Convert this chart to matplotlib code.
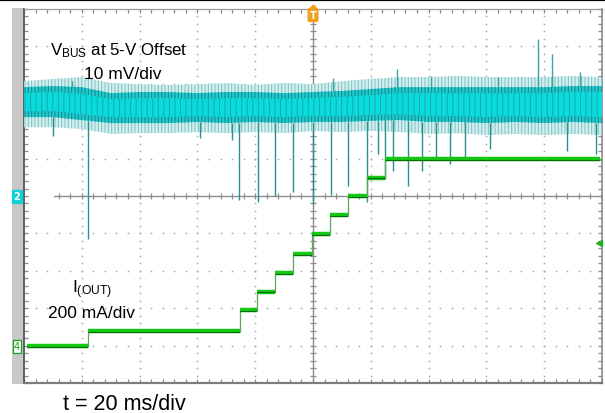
import numpy as np
import matplotlib
matplotlib.use('Agg')
import matplotlib.pyplot as plt
from matplotlib.patches import Rectangle
from matplotlib.lines import Line2D

plt.rcParams['font.family'] = ['Liberation Sans', 'DejaVu Sans']
plt.rcParams['mathtext.fontset'] = 'custom'
plt.rcParams['mathtext.rm'] = 'Liberation Sans'
plt.rcParams['mathtext.it'] = 'Liberation Sans:italic'
plt.rcParams['hatch.linewidth'] = 0.7

# ---------------- data ----------------
# time axis: 20 ms/div, 10 divisions -> 0..200 ms
env_t = [0, 10, 20, 30, 40, 50, 60, 70, 80, 90, 100,
         110, 120, 130, 140, 150, 160, 170, 180, 190, 200]
# VBUS deviation from 5-V offset (mV), noise envelopes
vbus_outer_hi = [30.7, 31.3, 31.8, 30.2, 29.9, 29.7, 29.9, 30.2, 29.7, 30.2, 29.9,
                 30.7, 31.3, 31.8, 31.8, 32.1, 31.8, 31.8, 31.8, 32.1, 31.8]
vbus_outer_lo = [18.4, 18.4, 17.9, 16.6, 16.8, 16.8, 17.1, 16.8, 17.1, 16.8, 17.4,
                 17.1, 17.4, 17.1, 16.6, 16.8, 16.3, 16.6, 16.3, 16.6, 16.3]
vbus_main_hi = [29.1, 29.4, 29.1, 27.5, 27.8, 27.8, 27.5, 27.8, 27.8, 27.5, 27.8,
                28.1, 28.6, 29.1, 29.1, 29.1, 29.1, 29.1, 29.1, 29.4, 29.4]
vbus_main_lo = [21.1, 21.1, 20.3, 19.5, 19.5, 19.5, 19.8, 19.5, 19.8, 19.5, 19.8,
                19.8, 20.1, 20.3, 19.8, 19.8, 19.5, 19.8, 19.5, 19.8, 19.5]
vbus_core_hi = [27.5, 27.8, 27.3, 25.9, 26.2, 26.2, 25.9, 26.2, 26.2, 25.9, 26.2,
                26.5, 27.0, 27.5, 27.5, 27.5, 27.5, 27.5, 27.5, 27.8, 27.8]
vbus_core_lo = [22.7, 22.7, 21.9, 21.1, 21.1, 21.1, 21.4, 21.1, 21.4, 21.1, 21.4,
                21.4, 21.7, 21.9, 21.4, 21.4, 21.1, 21.4, 21.1, 21.4, 21.1]

# downward glitches on VBUS: time (ms) and lowest value (mV)
dip_t = [10.0, 22.1, 61.0, 72.0, 74.4, 81.0, 86.9, 93.1, 100.0, 106.2, 112.1,
         118.7, 122.5, 124.9, 127.7, 132.9, 137.7, 142.6, 147.4, 152.6,
         161.2, 187.9, 197.9]
dip_v = [16.0, -11.5, 15.5, 15.0, -1.1, -1.6, 0.0, 1.1, -2.1, 0.3, 2.7,
         -1.6, 11.2, 4.5, 6.7, 2.7, 6.7, 9.9, 8.6, 9.9,
         12.6, 12.0, 11.2]
# upward glitches on VBUS: time (ms) and highest value (mV)
peak_t = [16.6, 106.9, 129.1, 141.0, 164.0, 177.9, 182.7, 192.4]
peak_v = [30.7, 31.6, 34.0, 32.0, 31.8, 42.0, 38.0, 33.2]

# I(OUT) staircase: step edges (ms) and levels (mA)
iout_edges = [1.0, 22.1, 74.7, 80.6, 86.9, 93.1, 99.7, 105.9, 112.1, 118.7, 124.9, 199.3]
iout_levels = [0, 80, 190, 290, 390, 490, 600, 700, 800, 900, 1000]

# scope settings
t_per_div = 20.0       # ms/div
vbus_per_div = 10.0    # mV/div
iout_per_div = 200.0   # mA/div
ch2_pos = 0.0          # div
ch4_pos = -4.01        # div

# ---------------- figure ----------------
W, H = 605, 414
fig = plt.figure(figsize=(W / 100, H / 100), dpi=100)
fig.patch.set_facecolor('white')

def fx(x):
    return x / W

def fy(y):
    return 1 - y / H

ax = fig.add_axes([fx(24), fy(384), fx(602) - fx(24), fy(10) - fy(384)])
ax.set_xlim(0, 10 * t_per_div)
ax.set_ylim(-5, 5)
ax.set_facecolor('white')

# grey strip on the left and black top rule
fig.add_artist(Rectangle((fx(12), fy(385)), fx(24) - fx(12), fy(9) - fy(385),
                         facecolor='#c8c8c8', edgecolor='none', transform=fig.transFigure, zorder=0))
fig.add_artist(Line2D([0, 1], [fy(1), fy(1)], color='black', lw=1.6, transform=fig.transFigure))

# grid of dots
minor_x = np.arange(0, 200.01, t_per_div / 5)
minor_y = np.arange(-5, 5.01, 0.2)
grid_col = '#a9a9a9'
for k in range(1, 10):
    if k == 5:
        continue
    tx = k * t_per_div
    ax.plot(np.full_like(minor_y, tx), minor_y, ls='none', marker='s', ms=1.1, mew=0,
            color=grid_col, zorder=1)
    ax.plot(minor_x, np.full_like(minor_x, k - 5.0), ls='none', marker='s', ms=1.1, mew=0,
            color=grid_col, zorder=1)

# center crosshair with minor ticks
cross_col = '#8e8e8e'
ax.plot([10.5, 200], [0, 0], color=cross_col, lw=1.0, zorder=1)
ax.plot([100, 100], [-5, 5], color=cross_col, lw=1.0, zorder=1)
mx = minor_x[minor_x > 10]
ax.plot(mx, np.zeros_like(mx), ls='none', marker='|', ms=4.5, mew=0.9, color=cross_col, zorder=1)
ax.plot(np.full_like(minor_y, 100.0), minor_y, ls='none', marker='_', ms=4.5, mew=0.9,
        color=cross_col, zorder=1)

# border ticks
ax.set_xticks(minor_x)
ax.set_yticks(minor_y)
ax.tick_params(which='both', direction='in', length=3, width=0.9, color='#8a8a8a',
               top=True, right=True, labelbottom=False, labelleft=False)
ax.spines['left'].set_color('#555555'); ax.spines['left'].set_linewidth(1.3)
ax.spines['bottom'].set_color('#7c7c7c'); ax.spines['bottom'].set_linewidth(1.6)
ax.spines['top'].set_color('#9a9a9a'); ax.spines['top'].set_linewidth(0.9)
ax.spines['right'].set_color('#8a8a8a'); ax.spines['right'].set_linewidth(1.2)

# VBUS trace (channel 2)
def vdiv(v):
    return np.asarray(v) / vbus_per_div + ch2_pos

ax.fill_between(env_t, vdiv(vbus_outer_lo), vdiv(vbus_outer_hi), facecolor='#d2eeee',
                edgecolor='#7cc2c2', hatch='|||||', lw=0, zorder=3)
ax.fill_between(env_t, vdiv(vbus_main_lo), vdiv(vbus_main_hi), facecolor='#1fcbcf',
                edgecolor='#12868b', hatch='|||||', lw=0, zorder=3)
ax.fill_between(env_t, vdiv(vbus_core_lo), vdiv(vbus_core_hi), facecolor='#08dcdc',
                edgecolor='#1ea6aa', hatch='|||', lw=0, zorder=3)
band_lo = np.interp(dip_t, env_t, vbus_main_lo)
ax.vlines(dip_t, vdiv(dip_v), vdiv(band_lo), color='#2b8f92', lw=1.0, zorder=3)
band_hi = np.interp(peak_t, env_t, vbus_main_hi)
ax.vlines(peak_t, vdiv(band_hi), vdiv(peak_v), color='#3aa3a6', lw=1.0, zorder=3)

# I(OUT) trace (channel 4)
iy = np.asarray(iout_levels) / iout_per_div + ch4_pos
ax.step(iout_edges, list(iy) + [iy[-1]], where='post', color='#5aa85a', lw=0.9, zorder=4)
ax.hlines(iy, iout_edges[:-1], iout_edges[1:], color='#14c814', lw=3.2, zorder=5)
ax.hlines(iy - 0.02, iout_edges[:-1], iout_edges[1:], color='#0b6e0b', lw=0.8, zorder=5)

# trigger level marker at right
ax.plot([199.0], [-1.26], marker='<', ms=4, color='#22b022', clip_on=False, zorder=6)

# channel markers in the grey strip
fig.text(fx(17), fy(197.5), '2', ha='center', va='center', fontsize=7, color='white',
         fontweight='bold', family='DejaVu Sans',
         bbox=dict(boxstyle='square,pad=0.15', fc='#10d0d8', ec='#10d0d8'))
fig.text(fx(17), fy(347.5), '4', ha='center', va='center', fontsize=7, color='#1aa01a',
         family='DejaVu Sans',
         bbox=dict(boxstyle='square,pad=0.12', fc='white', ec='#1aa01a', lw=0.9))

# trigger position marker at top
fig.text(fx(313), fy(16), 'T', ha='center', va='center', fontsize=7, color='white',
         fontweight='bold', family='DejaVu Sans',
         bbox=dict(boxstyle='round,pad=0.15', fc='#f0a020', ec='#f0a020'))
fig.add_artist(Line2D([fx(313)], [fy(9)], marker='D', ms=3.5, color='#f0a020',
                      transform=fig.transFigure))

# annotations
fig.text(fx(50), fy(55), r'V$_{\mathrm{BUS}}$ at 5-V Offset', fontsize=12.2, va='baseline', ha='left')
fig.text(fx(84), fy(79), '10 mV/div', fontsize=12.5, va='baseline', ha='left')
fig.text(fx(72), fy(293), r'I$_{\mathrm{(OUT)}}$', fontsize=12.5, va='baseline', ha='left')
fig.text(fx(48), fy(318), '200 mA/div', fontsize=12.5, va='baseline', ha='left')
fig.text(fx(63), fy(410), 't = 20 ms/div', fontsize=15.5, va='baseline', ha='left')

fig.savefig('out.png', dpi=100, facecolor='white')
